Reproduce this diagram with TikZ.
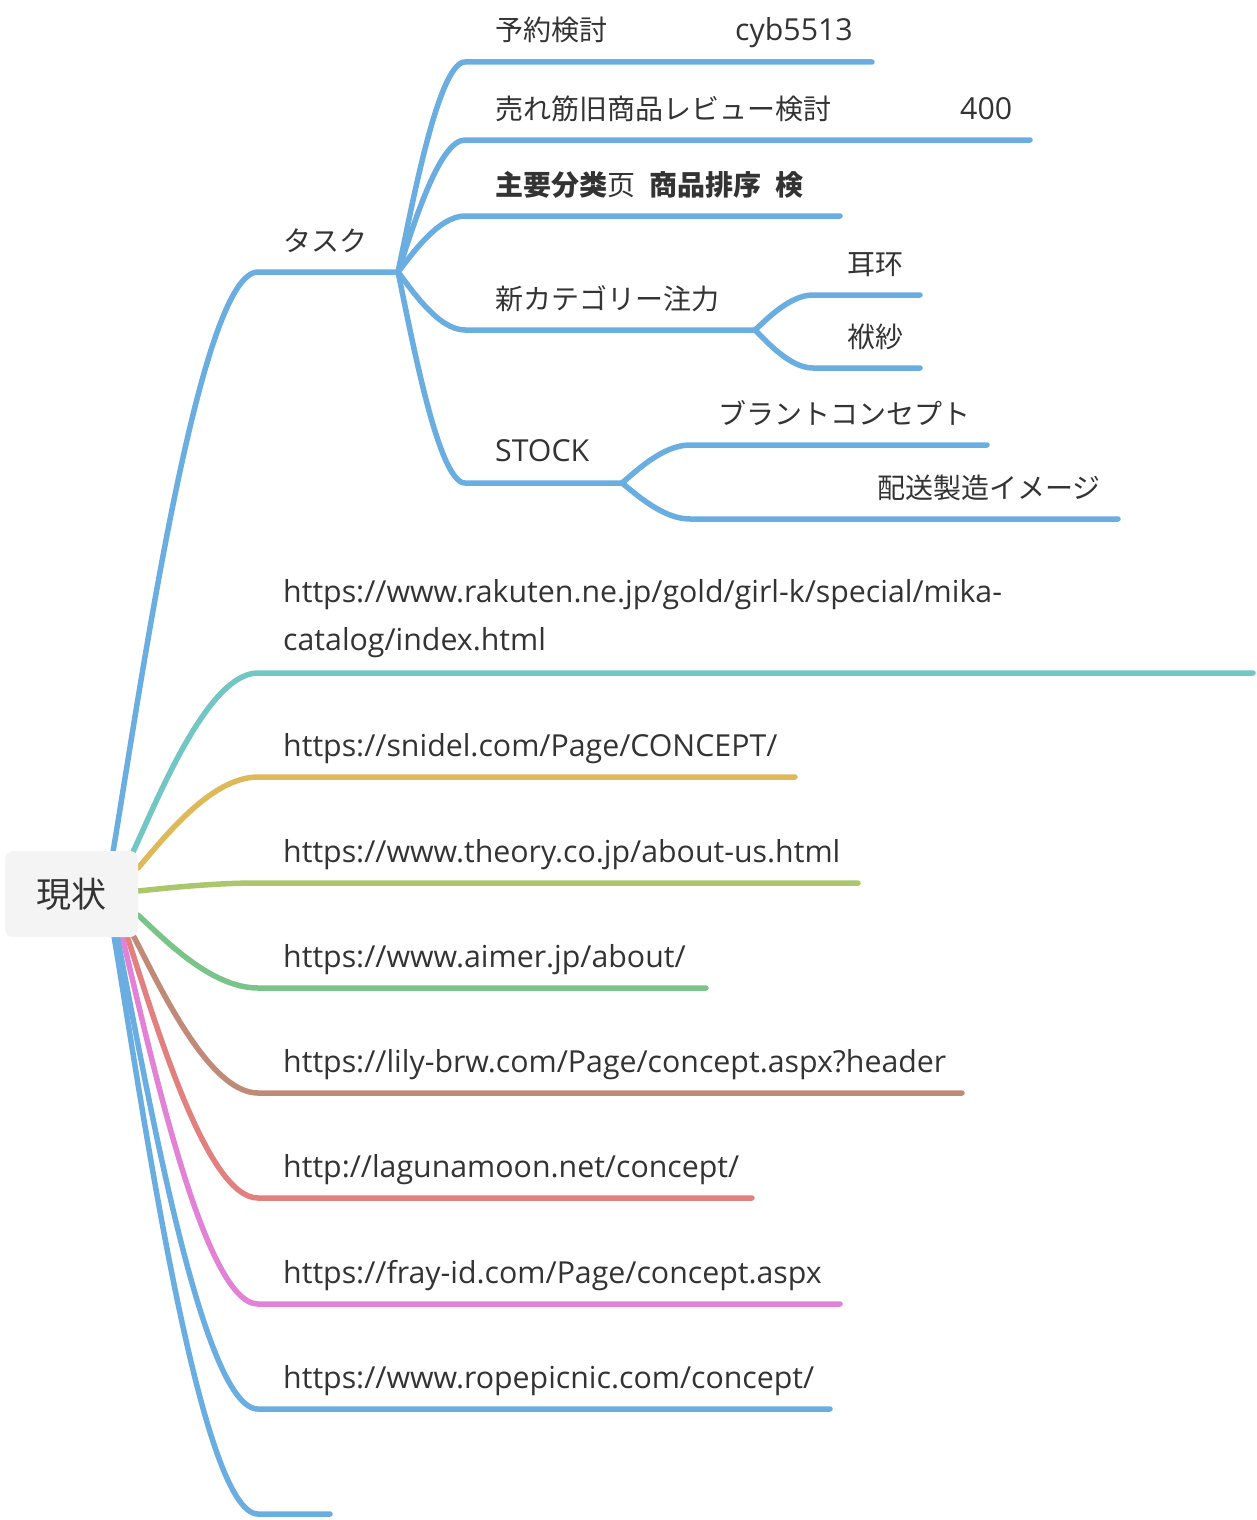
\documentclass[tikz,border=0pt]{standalone}
\usepackage{fontspec}
\setmainfont{Open Sans}
\newfontfamily\cjk{Noto Sans CJK JP}
\usetikzlibrary{calc}
\definecolor{mmblue}{RGB}{106,174,225}
\definecolor{mmteal}{RGB}{114,198,196}
\definecolor{mmyellow}{RGB}{222,185,90}
\definecolor{mmlgreen}{RGB}{172,198,108}
\definecolor{mmgreen}{RGB}{122,196,138}
\definecolor{mmbrown}{RGB}{192,138,120}
\definecolor{mmred}{RGB}{226,128,128}
\definecolor{mmpink}{RGB}{226,130,214}
\definecolor{txt}{RGB}{51,51,51}
\definecolor{rootgray}{RGB}{244,244,244}
\newcommand\jp{\cjk\fontsize{28}{33}\selectfont}
\tikzset{
  mmline/.style={line width=5.5pt, line cap=round, line join=round},
  lbl/.style={anchor=base west, inner sep=0pt, text=txt, font=\fontsize{30.3}{36}\selectfont},
  jlbl/.style={anchor=base west, inner sep=0pt, text=txt, font=\jp},
}
\newcommand\mmlink[4]{%
  \draw[mmline,#1] let \p1=(#2), \p2=(#3) in (#2) .. controls ({\x1+0.2*(\x2-\x1)},{\y1+0.3*(\y2-\y1)}) and ({\x1+0.6*(\x2-\x1)},\y2) .. (#3) -- (#4);%
}
\begin{document}
\begin{tikzpicture}[x=1pt,y=-1pt]
\useasboundingbox (0,0) rectangle (1256,1520);
% start points at root
\coordinate (s1) at (113,852);
\coordinate (s2) at (133,852);
\coordinate (s3) at (138,868);
\coordinate (s4) at (138,891);
\coordinate (s5) at (138,915);
\coordinate (s6) at (133,935);
\coordinate (s7) at (127,936);
\coordinate (s8) at (122,936);
\coordinate (s9) at (117,936);
\coordinate (s10) at (114,936);
% main branch corners and ends
\coordinate (c1) at (258,272);  \coordinate (j1) at (398,272);
\coordinate (c2) at (258,673);  \coordinate (e2) at (1253,673);
\coordinate (c3) at (258,777);  \coordinate (e3) at (795,777);
\coordinate (c4) at (258,883);  \coordinate (e4) at (858,883);
\coordinate (c5) at (258,988);  \coordinate (e5) at (706,988);
\coordinate (c6) at (258,1093); \coordinate (e6) at (962,1093);
\coordinate (c7) at (258,1198); \coordinate (e7) at (752,1198);
\coordinate (c8) at (258,1304); \coordinate (e8) at (840,1304);
\coordinate (c9) at (258,1409); \coordinate (e9) at (830,1409);
\coordinate (c10) at (258,1514); \coordinate (e10) at (330,1514);
% task children
\coordinate (ta) at (465,62);  \coordinate (tae) at (872,62);
\coordinate (tb) at (465,140); \coordinate (tbe) at (1030,140);
\coordinate (tc) at (465,216); \coordinate (tce) at (840,216);
\coordinate (td) at (465,330); \coordinate (jd) at (755,330);
\coordinate (te) at (465,483); \coordinate (je) at (622,483);
\coordinate (da) at (813,295); \coordinate (dae) at (920,295);
\coordinate (db) at (813,368); \coordinate (dbe) at (920,368);
\coordinate (ea) at (690,445); \coordinate (eae) at (987,445);
\coordinate (eb) at (690,519); \coordinate (ebe) at (1118,519);
% links
\mmlink{mmblue}{s1}{c1}{j1}
\mmlink{mmblue}{j1}{ta}{tae}
\mmlink{mmblue}{j1}{tb}{tbe}
\mmlink{mmblue}{j1}{tc}{tce}
\mmlink{mmblue}{j1}{td}{jd}
\mmlink{mmblue}{j1}{te}{je}
\mmlink{mmblue}{jd}{da}{dae}
\mmlink{mmblue}{jd}{db}{dbe}
\mmlink{mmblue}{je}{ea}{eae}
\mmlink{mmblue}{je}{eb}{ebe}
\mmlink{mmteal}{s2}{c2}{e2}
\mmlink{mmyellow}{s3}{c3}{e3}
\mmlink{mmlgreen}{s4}{c4}{e4}
\mmlink{mmgreen}{s5}{c5}{e5}
\mmlink{mmbrown}{s6}{c6}{e6}
\mmlink{mmred}{s7}{c7}{e7}
\mmlink{mmpink}{s8}{c8}{e8}
\mmlink{mmblue}{s10}{c10}{e10}
\mmlink{mmblue}{s9}{c9}{e9}
% root
\node[fill=rootgray, rounded corners=8pt, minimum width=133pt, minimum height=86pt, inner sep=0pt, text=txt, font=\cjk\fontsize{35}{40}\selectfont] (root) at (71.5,894) {現状};
% labels
\node[jlbl] (task) at (283,251) {タスク};
\node[lbl] (yoyaku) at (495,41) {\makebox[240pt][l]{\jp 予約検討}cyb5513};
\node[lbl] (ureseji) at (495,119) {\makebox[465pt][l]{\jp 売れ筋旧商品レビュー検討}400};
\node[jlbl] (shuyo) at (495,195) {\textbf{主要分类}页\hspace{0.5em}\textbf{商品排序}\hspace{0.5em}\textbf{検}};
\node[jlbl] (newcat) at (495,309) {新カテゴリー注力};
\node[lbl] (stock) at (495,461) {STOCK};
\node[jlbl] (earring) at (847,274) {耳环};
\node[jlbl] (fukusa) at (847,347) {袱紗};
\node[jlbl] (brand) at (718,424) {ブラントコンセプト};
\node[jlbl] (haiso) at (877,498) {配送製造イメージ};
\node[lbl, anchor=south west, align=left, font=\fontsize{30.3}{48}\selectfont] (rakuten) at (283,658) {https://www.rakuten.ne.jp/gold/girl-k/special/mika-\\catalog/index.html};
\node[lbl] (snidel) at (283,756) {https://snidel.com/Page/CONCEPT/};
\node[lbl] (theory) at (283,862) {https://www.theory.co.jp/about-us.html};
\node[lbl] (aimer) at (283,967) {https://www.aimer.jp/about/};
\node[lbl] (lily) at (283,1072) {https://lily-brw.com/Page/concept.aspx?header};
\node[lbl] (laguna) at (283,1177) {http://lagunamoon.net/concept/};
\node[lbl] (fray) at (283,1283) {https://fray-id.com/Page/concept.aspx};
\node[lbl] (rope) at (283,1388) {https://www.ropepicnic.com/concept/};
\end{tikzpicture}
\end{document}
